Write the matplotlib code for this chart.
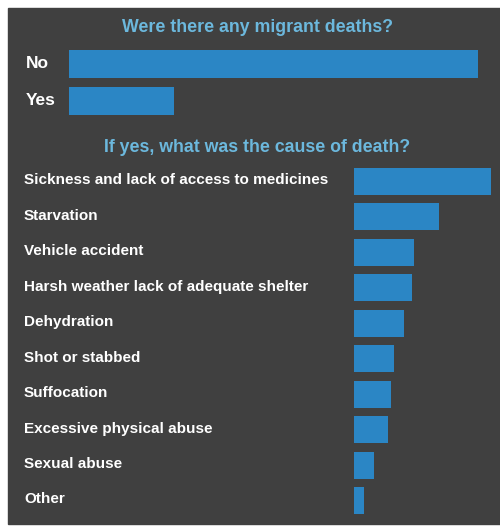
import matplotlib
matplotlib.use("Agg")
import matplotlib.pyplot as plt
from matplotlib.patches import Rectangle
import matplotlib.transforms as mtransforms

# data
answer_labels = ["No", "Yes"]
answer_values = [79.6, 20.4]

cause_labels = [
    "Sickness and lack of access to medicines",
    "Starvation",
    "Vehicle accident",
    "Harsh weather lack of adequate shelter",
    "Dehydration",
    "Shot or stabbed",
    "Suffocation",
    "Excessive physical abuse",
    "Sexual abuse",
    "Other",
]
cause_values = [27.0, 16.8, 11.8, 11.4, 9.9, 7.9, 7.3, 6.7, 4.0, 2.0]

W, H = 500, 527
bg = "#404040"
bar_color = "#2b86c5"
title_color = "#6cb8dd"
font = "Liberation Sans"

fig = plt.figure(figsize=(W / 100, H / 100), dpi=100)
fig.patch.set_facecolor("white")


def px_axes(left, top, right, bottom):
    return fig.add_axes([left / W, 1 - bottom / H, (right - left) / W, (bottom - top) / H])


# dark panel, running off the right edge
fig.patches.append(Rectangle((8 / W, 3 / H), 1.0, (524 - 8) / H, color=bg,
                             transform=fig.transFigure, figure=fig, zorder=-10))

fig.text(258 / W, 1 - 27 / H, "Were there any migrant deaths?", color=title_color,
         fontsize=12.8, fontweight="bold", family=font, ha="center", va="center")
fig.text(257 / W, 1 - 147 / H, "If yes, what was the cause of death?", color=title_color,
         fontsize=12.8, fontweight="bold", family=font, ha="center", va="center")

# top question
ax1 = px_axes(69, 45.5, 478, 119.5)
ax1.barh(range(len(answer_labels)), answer_values, height=0.76, color=bar_color)
ax1.set_xlim(0, max(answer_values))
ax1.set_ylim(len(answer_labels) - 0.5, -0.5)
ax1.axis("off")
tr1 = mtransforms.blended_transform_factory(fig.transFigure, ax1.transData)
for i, lab in enumerate(answer_labels):
    ax1.text(26 / W, i - 0.02, lab, transform=tr1, color="white", fontsize=12.5,
             fontweight="bold", family=font, ha="left", va="center")

# causes
ax2 = px_axes(354, 163.8, 491, 518.2)
ax2.barh(range(len(cause_labels)), cause_values, height=0.76, color=bar_color)
ax2.set_xlim(0, max(cause_values))
ax2.set_ylim(len(cause_labels) - 0.5, -0.5)
ax2.axis("off")
tr2 = mtransforms.blended_transform_factory(fig.transFigure, ax2.transData)
for i, lab in enumerate(cause_labels):
    ax2.text(24 / W, i - 0.03, lab, transform=tr2, color="white", fontsize=11,
             fontweight="bold", family=font, ha="left", va="center")

fig.savefig("out.png", dpi=100, facecolor=fig.get_facecolor())
